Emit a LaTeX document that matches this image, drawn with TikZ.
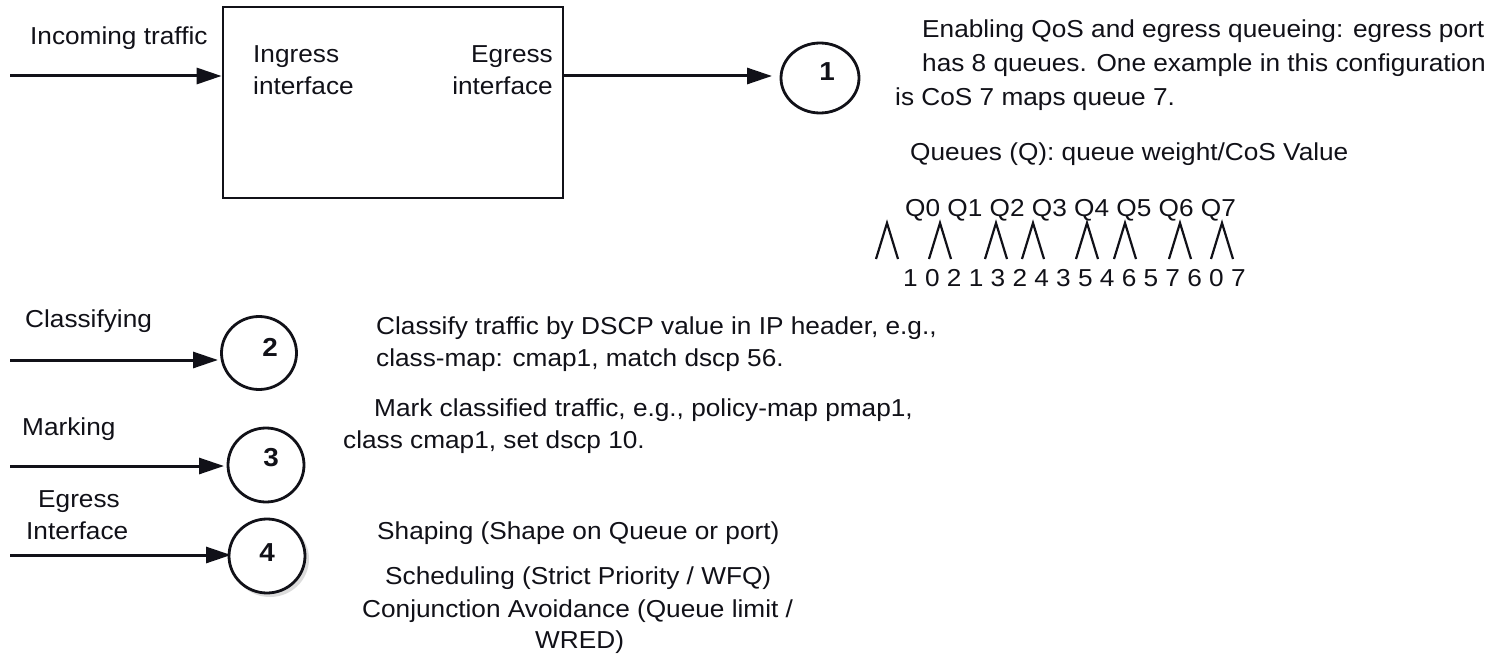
\documentclass[tikz,border=0pt]{standalone}
\usepackage{fontspec}
\setmainfont[FakeStretch=1.07]{Liberation Sans}
\usetikzlibrary{arrows.meta,shapes.geometric}
\definecolor{ink}{HTML}{111118}
\tikzset{
  txt/.style={inner sep=0pt, anchor=base west, text=ink, font=\fontsize{24.5}{30}\selectfont},
  txtr/.style={txt, anchor=base east},
  arr/.style={draw=ink, line width=3pt, -{Triangle[length=25pt,width=16pt]}},
  circ/.style={ellipse, draw=ink, line width=2.8pt, inner sep=0pt, fill=white},
  num/.style={inner sep=0pt, text=ink, font=\fontsize{26}{30}\selectfont\bfseries},
  caret/.style={draw=ink, line width=2.2pt}
}
\begin{document}
\begin{tikzpicture}[x=1pt,y=-1pt]
\fill[white] (0,0) rectangle (1496,655);
\useasboundingbox (0,0) rectangle (1496,655);

% main box
\node[draw=ink, line width=2.8pt, minimum width=340pt, minimum height=191pt, inner sep=0pt] (box) at (393,102.5) {};
\node[txt] (incoming) at (30,45) {Incoming traffic};
\node[txt] (ing1) at (253,63) {Ingress};
\node[txt] (ing2) at (253,95) {interface};
\node[txtr] (eg1) at (553,63) {Egress};
\node[txtr] (eg2) at (553,95) {interface};

% circles
\node[circ, minimum width=78pt, minimum height=70pt] (c1) at (820,78) {};
\node[num] (n1) at (827,72) {1};
\node[circ, minimum width=75pt, minimum height=73pt] (c2) at (259,353) {};
\node[num] (n2) at (270,347) {2};
\node[circ, minimum width=76pt, minimum height=74pt] (c3) at (266,465) {};
\node[num] (n3) at (271,458) {3};
\fill[gray!45, opacity=0.6] (270,559) ellipse [x radius=39pt, y radius=38pt];
\node[circ, minimum width=76pt, minimum height=74pt] (c4) at (267,556) {};
\node[num] (n4) at (267,553) {4};

% arrows
\coordinate (inS) at (10,76);
\draw[arr] (inS) -- (inS -| box.west);
\coordinate (outS) at (box.east |- 0,76);
\coordinate (outE) at (772,76);
\draw[arr] (outS) -- (outE);
\coordinate (s2) at (10,360);
\coordinate (e2) at (218,360);
\draw[arr] (s2) -- (e2);
\coordinate (s3) at (10,466);
\coordinate (e3) at (224,466);
\draw[arr] (s3) -- (e3);
\coordinate (s4) at (10,555);
\coordinate (e4) at (231,555);
\draw[arr] (s4) -- (e4);

% left labels
\node[txt] (cls) at (25,327) {Classifying};
\node[txt] (mrk) at (22,435) {Marking};
\node[txt] (egi1) at (38,507) {Egress};
\node[txt] (egi2) at (26,539) {Interface};

% right text block
\node[txt] (r1) at (922,38) {Enabling QoS and egress queueing: egress port};
\node[txt] (r2) at (922,72) {has 8 queues. One example in this configuration};
\node[txt] (r3) at (895,106) {is CoS 7 maps queue 7.};
\node[txt] (r4) at (910,161) {Queues (Q): queue weight/CoS Value};
\node[txt] (qrow) at (905,216) {Q0 Q1 Q2 Q3 Q4 Q5 Q6 Q7};
\foreach \x in {887,940,996,1033,1087,1125,1180,1222}
  \draw[caret] (\x-11,259) -- (\x,223) -- (\x+11,259);
\node[txt] (drow) at (903,286) {1 0 2 1 3 2 4 3 5 4 6 5 7 6 0 7};

% middle texts
\node[txt] (m1) at (376,334) {Classify traffic by DSCP value in IP header, e.g.,};
\node[txt] (m2) at (376,366) {class-map: cmap1, match dscp 56.};
\node[txt] (m3) at (374,416) {Mark classified traffic, e.g., policy-map pmap1,};
\node[txt] (m4) at (343,448) {class cmap1, set dscp 10.};
\node[txt] (m5) at (377,539) {Shaping (Shape on Queue or port)};
\node[txt] (m6) at (385,584) {Scheduling (Strict Priority / WFQ)};
\node[txt] (m7) at (362,617) {Conjunction Avoidance (Queue limit /};
\node[txt] (m8) at (535,648) {WRED)};
\end{tikzpicture}
\end{document}
